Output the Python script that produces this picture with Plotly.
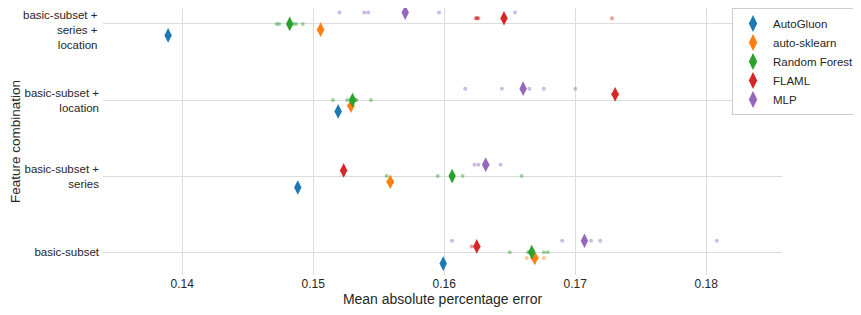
import numpy as np
import plotly.graph_objects as go

combos = ["basic-subset + series + location", "basic-subset + location",
          "basic-subset + series", "basic-subset"]
combo_ticks = ["basic-subset +<br>series +<br>location", "basic-subset +<br>location",
               "basic-subset +<br>series", "basic-subset"]
models = ["AutoGluon", "auto-sklearn", "Random Forest", "FLAML", "MLP"]
colors = ["#1f77b4", "#ff7f0e", "#2ca02c", "#d62728", "#9467bd"]

# MAPE for 5 runs per model / feature combination (order as in combos)
autogluon = [[0.1389, 0.1389, 0.1390, 0.1389, 0.1389],
             [0.1519, 0.1519, 0.1518, 0.1519, 0.1520],
             [0.1488, 0.1488, 0.1488, 0.1489, 0.1488],
             [0.1599, 0.1599, 0.1600, 0.1599, 0.1599]]
auto_sklearn = [[0.1504, 0.1505, 0.1506, 0.1507, 0.1506],
                [0.1527, 0.1528, 0.1529, 0.1530, 0.1530],
                [0.1557, 0.1558, 0.1559, 0.1560, 0.1560],
                [0.1663, 0.1676, 0.1667, 0.1668, 0.1671]]
random_forest = [[0.1472, 0.1474, 0.1492, 0.1485, 0.1487],
                 [0.1515, 0.1526, 0.1532, 0.1533, 0.1544],
                 [0.1556, 0.1595, 0.1614, 0.1659, 0.1606],
                 [0.1650, 0.1676, 0.1679, 0.1665, 0.1664]]
flaml = [[0.1625, 0.1624, 0.1626, 0.1625, 0.1728],
         [0.1729, 0.1731, 0.1730, 0.1732, 0.1730],
         [0.1522, 0.1523, 0.1524, 0.1523, 0.1524],
         [0.1621, 0.1626, 0.1626, 0.1626, 0.1625]]
mlp = [[0.1520, 0.1539, 0.1542, 0.1596, 0.1654],
       [0.1616, 0.1644, 0.1665, 0.1676, 0.1700],
       [0.1623, 0.1626, 0.1643, 0.1633, 0.1633],
       [0.1606, 0.1690, 0.1712, 0.1719, 0.1808]]
runs = [autogluon, auto_sklearn, random_forest, flaml, mlp]

x_ticks = [0.14, 0.15, 0.16, 0.17, 0.18]
x_ticklabels = ["0.14", "0.15", "0.16", "0.17", "0.18"]

# vertical dodge per model
offsets = [0.15, 0.075, 0.0, -0.075, -0.15]

fig = go.Figure()
# individual runs (light dots)
for m, (name, col, data, off) in enumerate(zip(models, colors, runs, offsets)):
    xs, ys = [], []
    for c, vals in enumerate(data):
        xs += vals
        ys += [c + off] * len(vals)
    fig.add_trace(go.Scatter(x=xs, y=ys, mode="markers", showlegend=False,
                             marker=dict(color=col, size=4, opacity=0.45,
                                         line=dict(width=0)),
                             hoverinfo="x"))
# means (diamonds)
for m, (name, col, data, off) in enumerate(zip(models, colors, runs, offsets)):
    means = [float(np.mean(v)) for v in data]
    fig.add_trace(go.Scatter(x=means, y=[c + off for c in range(len(combos))],
                             mode="markers", name=name,
                             marker=dict(color=col, size=10.5, symbol="diamond-tall",
                                         line=dict(width=0))))

font = "Liberation Sans, Arial, sans-serif"
tick_font = 11.5
# the top (three-line) category label would overflow the top edge when centred
# on its tick, so it is drawn as a right-aligned annotation hanging from the top
axis_ticktext = [""] + combo_ticks[1:]
fig.add_annotation(text=combo_ticks[0], xref="paper", x=0, xanchor="right", xshift=-3,
                   yref="paper", y=1, yanchor="top", yshift=1, showarrow=False,
                   align="right", font=dict(size=tick_font, color="#262626"))

fig.update_layout(
    width=853, height=307,
    margin=dict(l=95, r=79, t=0, b=40, autoexpand=False),
    plot_bgcolor="white", paper_bgcolor="white",
    font=dict(family=font, size=12, color="#262626"),
    xaxis=dict(range=[0.13395, 0.18578], tickvals=x_ticks, ticktext=x_ticklabels,
               showgrid=True, gridcolor="#dcdcdc", gridwidth=1, zeroline=False,
               showline=False, ticks="", automargin=False,
               tickfont=dict(size=12),
               title=dict(text="Mean absolute percentage error", font=dict(size=14),
                          standoff=4)),
    yaxis=dict(range=[3.30, -0.21], tickvals=list(range(len(combos))),
               ticktext=axis_ticktext, showgrid=True, gridcolor="#dcdcdc", gridwidth=1,
               zeroline=False, showline=False, ticks="", ticklabelstandoff=3,
               automargin=False, tickfont=dict(size=tick_font),
               title=dict(text="Feature combination", font=dict(size=13.5), standoff=10)),
    legend=dict(x=1.1149, xanchor="right", y=1.0, yanchor="top",
                bgcolor="white", bordercolor="#cccccc", borderwidth=1,
                font=dict(size=11.5), itemsizing="constant", itemwidth=30),
    showlegend=True,
)
fig.write_html("out.html")
